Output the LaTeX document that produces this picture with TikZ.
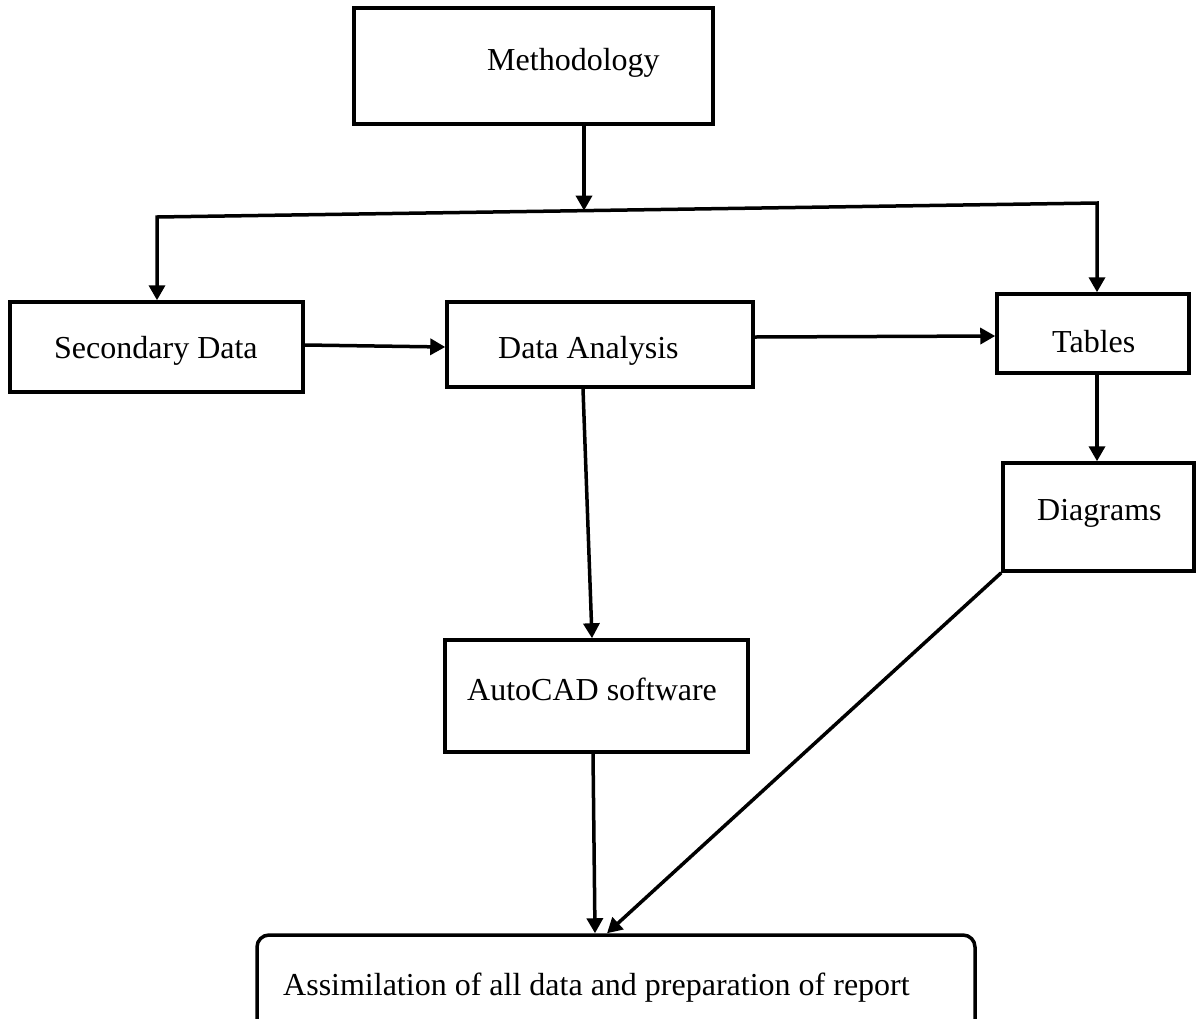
\documentclass[tikz,border=0pt]{standalone}
\usepackage{fontspec}
\setmainfont{Liberation Serif}
\usetikzlibrary{arrows.meta}
\begin{document}
\begin{tikzpicture}[x=1pt,y=-1pt,
  box/.style={draw=black,line width=3.5pt,rectangle,inner sep=0pt},
  txt/.style={inner sep=0pt,anchor=base west,font=\fontsize{32}{38}\selectfont},
  arr/.style={line width=3.5pt,-{Triangle[length=15pt,width=16pt]}},
  arrboth/.style={line width=3.5pt,{Triangle[length=15pt,width=16pt]}-{Triangle[length=15pt,width=16pt]}}]
\useasboundingbox (0,0) rectangle (1196,1018);
\clip (0,0) rectangle (1196,1018);
% boxes
\node[box,minimum width=359pt,minimum height=116pt] (meth) at (533.5,66) {};
\node[box,minimum width=293pt,minimum height=90pt] (sec) at (156.5,347) {};
\node[box,minimum width=306pt,minimum height=85pt] (da) at (600,344.5) {};
\node[box,minimum width=192pt,minimum height=79pt] (tab) at (1093,333.5) {};
\node[box,minimum width=191pt,minimum height=108pt] (dia) at (1098.5,517) {};
\node[box,minimum width=303pt,minimum height=112pt] (auto) at (596.5,696) {};
\node[box,rounded corners=12pt,minimum width=718pt,minimum height=105pt] (assim) at (616,987.5) {};
% texts
\node[txt] (tmeth) at (487,70) {Methodology};
\node[txt] (tsec) at (54,358) {Secondary Data};
\node[txt] (tda) at (498,358) {Data Analysis};
\node[txt] (ttab) at (1052,352) {Tables};
\node[txt] (tdia) at (1037,520) {Diagrams};
\node[txt] (tauto) at (467,700) {AutoCAD software};
\node[txt] (tassim) at (283,995) {Assimilation of all data and preparation of report};
% connectors
\coordinate (bl) at (157,217);
\coordinate (br) at (1097,203);
\coordinate (split) at (584,210.6);
\draw[arr] (meth.south -| split) -- (split);
\draw[arrboth,line join=miter] (sec.north -| bl) -- (bl) -- (br) -- (tab.north -| br);
\draw[arr] ([yshift=2pt]sec.east) -- ([yshift=-2.5pt]da.west);
\draw[arr] ([yshift=7.5pt]da.east) -- ([yshift=-2.5pt]tab.west);
\draw[arr] (tab.south -| br) -- (dia.north -| br);
\draw[arr] ([xshift=-17pt]da.south) -- ([xshift=-4.5pt]auto.north);
\draw[arr] ([xshift=-3.5pt]auto.south) -- ([xshift=-21pt]assim.north);
\draw[arr] (dia.south west) -- ([xshift=-9pt]assim.north);
\end{tikzpicture}
\end{document}
